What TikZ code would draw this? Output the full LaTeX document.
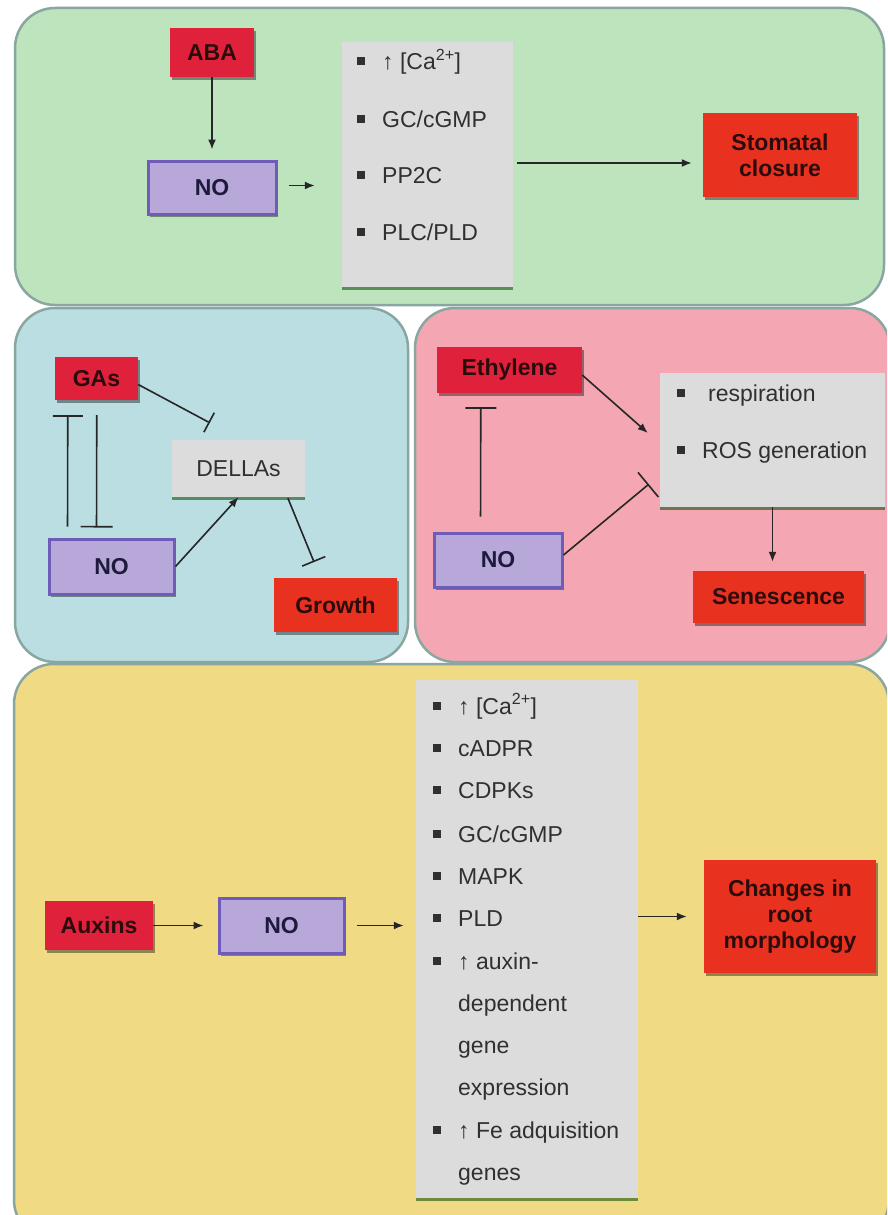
\documentclass[tikz,border=0pt]{standalone}
\usepackage{fontspec}
\setmainfont{Liberation Sans}
\usetikzlibrary{arrows.meta,shadows,calc}
\definecolor{pgreen}{HTML}{BEE4BE}
\definecolor{pblue}{HTML}{BBDEE2}
\definecolor{ppink}{HTML}{F4A7B2}
\definecolor{pyellow}{HTML}{F0DB84}
\definecolor{pborder}{HTML}{8AA6A0}
\definecolor{crimson}{HTML}{E0213C}
\definecolor{orangered}{HTML}{E8321F}
\definecolor{lav}{HTML}{B8A8DA}
\definecolor{lavborder}{HTML}{6F5CB8}
\definecolor{lgray}{HTML}{DCDCDC}
\definecolor{darktext}{HTML}{2A0C0C}
\definecolor{notext}{HTML}{1E1A3C}
\definecolor{itemtext}{HTML}{303030}
\newcommand{\itembullet}[1][25pt]{\makebox[#1][l]{\raisebox{4.5pt}{\rule{8pt}{8pt}}}}
\begin{document}
\begin{tikzpicture}[x=1pt,y=-1pt,
  panel/.style={draw=pborder, line width=2.5pt, rounded corners=40pt},
  box/.style={inner sep=0pt, align=center, font=\bfseries\fontsize{23}{26}\selectfont,
    drop shadow={shadow xshift=2pt, shadow yshift=-3pt, opacity=0.4, fill=black}},
  cause/.style={box, fill=crimson, text=darktext},
  effect/.style={box, fill=orangered, text=darktext},
  nobox/.style={box, fill=lav, draw=lavborder, line width=3pt, text=notext},
  listbox/.style={inner sep=0pt, fill=lgray,
    drop shadow={shadow xshift=0pt, shadow yshift=-3pt, opacity=0.55, fill=black!70!green}},
  item/.style={anchor=base west, inner sep=0pt, font=\fontsize{23}{26}\selectfont, text=itemtext},
  arr/.style={-{Latex[length=10pt,width=8pt]}, line width=1.6pt, draw=black!85},
  inh/.style={-{Bar[width=#1,line width=1.6pt]}, line width=1.6pt, draw=black!85},
  inh/.default=30pt
]
\useasboundingbox (0,0) rectangle (887,1215);
\clip (0,0) rectangle (887,1215);
\fill[white] (0,0) rectangle (887,1215);

% panels
\draw[panel, fill=pgreen] (15,8) rectangle (884,305);
\draw[panel, fill=pblue] (15,308) rectangle (408,662);
\draw[panel, fill=ppink] (415,308) rectangle (890,662);
\draw[panel, fill=pyellow] (14,664) rectangle (889,1240);

% ---------- top panel ----------
\node[cause, minimum width=84pt, minimum height=49pt] (ABA) at (212,52.5) {ABA};
\node[nobox, minimum width=128pt, minimum height=53pt] (NOa) at (212,187.5) {NO};
\node[listbox, minimum width=171pt, minimum height=245pt] (Ga) at (427.5,164.5) {};
\node[effect, minimum width=154pt, minimum height=84pt] (Stom) at (780,155) {Stomatal\\closure};
\node[item] (ta1) at (357,70) {\itembullet↑ [Ca\textsuperscript{2+}]};
\node[item] (ta2) at (357,127) {\itembullet GC/cGMP};
\node[item] (ta3) at (357,183) {\itembullet PP2C};
\node[item] (ta4) at (357,240) {\itembullet PLC/PLD};
\draw[arr, shorten >=10pt] (ABA.south) -- (ABA.south |- NOa.north);
\draw[arr, shorten <=11pt, shorten >=27pt] ([yshift=2pt]NOa.east) -- ([yshift=2pt]NOa.east -| Ga.west);
\draw[arr, shorten <=4pt, shorten >=11pt] ([yshift=-8pt]Stom.west -| Ga.east) -- ([yshift=-8pt]Stom.west);

% ---------- blue panel ----------
\node[cause, minimum width=83pt, minimum height=43pt] (GAs) at (96.5,378.5) {GAs};
\node[listbox, minimum width=133pt, minimum height=57pt, font=\fontsize{23}{26}\selectfont, text=itemtext] (DELLAs) at (238.5,468.5) {DELLAs};
\node[nobox, minimum width=125pt, minimum height=55pt] (NOb) at (111.5,566.5) {NO};
\node[effect, minimum width=123pt, minimum height=54pt] (Growth) at (335.5,605) {Growth};
\draw[inh=22pt] ([yshift=-6pt]GAs.east) -- ([xshift=38pt,yshift=17pt]DELLAs.north west);
\draw[inh=30pt, shorten <=11pt, shorten >=15pt] ([xshift=20pt]NOb.north west) -- ([xshift=13pt]GAs.south west);
\draw[inh=32pt, shorten <=15pt, shorten >=10pt] ([xshift=42pt]GAs.south west) -- ([xshift=49pt]NOb.north west);
\draw[arr] (NOb.east) -- (DELLAs.south);
\draw[inh=25pt, shorten <=1pt, shorten >=17pt] ([xshift=49pt]DELLAs.south) -- ([xshift=-15pt]Growth.north);

% ---------- pink panel ----------
\node[cause, minimum width=145pt, minimum height=46pt] (Eth) at (509.5,370) {Ethylene};
\node[listbox, minimum width=225pt, minimum height=134pt] (Gb) at (772.5,440) {};
\node[item] (tb1) at (677,401) {\itembullet[31pt]respiration};
\node[item] (tb2) at (677,458) {\itembullet ROS generation};
\node[nobox, minimum width=128pt, minimum height=54pt] (NOc) at (498,560) {NO};
\node[effect, minimum width=171pt, minimum height=52pt] (Sen) at (778.5,597) {Senescence};
\draw[arr] ([yshift=-5pt]Eth.east) -- ([xshift=-12pt,yshift=7pt]Gb.west);
\draw[inh=32pt] ([yshift=5pt]NOc.east) -- ([xshift=-11pt,yshift=23pt]Gb.south west);
\draw[inh=31pt, shorten <=15pt, shorten >=14pt] ([xshift=48pt]NOc.north west) -- ([xshift=44pt]Eth.south west);
\draw[arr, shorten >=9pt] (Gb.south) -- (Gb.south |- Sen.north);

% ---------- yellow panel ----------
\node[listbox, minimum width=222pt, minimum height=518pt] (Gc) at (527,939) {};
\node[cause, minimum width=108pt, minimum height=49pt] (Aux) at (99,925.5) {Auxins};
\node[nobox, minimum width=125pt, minimum height=55pt] (NOd) at (281.5,925.5) {NO};
\node[effect, minimum width=172pt, minimum height=113pt] (Chg) at (790,916.5) {Changes in\\root\\morphology};
\node[item] (tc1) at (433,714) {\itembullet↑ [Ca\textsuperscript{2+}]};
\node[item] (tc2) at (433,756) {\itembullet cADPR};
\node[item] (tc3) at (433,798) {\itembullet CDPKs};
\node[item] (tc4) at (433,842) {\itembullet GC/cGMP};
\node[item] (tc5) at (433,884) {\itembullet MAPK};
\node[item] (tc6) at (433,926) {\itembullet PLD};
\node[item] (tc7) at (433,969) {\itembullet↑ auxin-};
\node[item] (tc8) at (458,1011) {dependent};
\node[item] (tc9) at (458,1053) {gene};
\node[item] (tc10) at (458,1095) {expression};
\node[item] (tc11) at (433,1138) {\itembullet↑ Fe adquisition};
\node[item] (tc12) at (458,1180) {genes};
\draw[arr, shorten >=14pt] (Aux.east) -- (NOd.west);
\draw[arr, shorten <=11pt, shorten >=12pt] (NOd.east) -- (NOd.east -| Gc.west);
\draw[arr, shorten >=17pt] (Chg.west -| Gc.east) -- (Chg.west);
\end{tikzpicture}
\end{document}
